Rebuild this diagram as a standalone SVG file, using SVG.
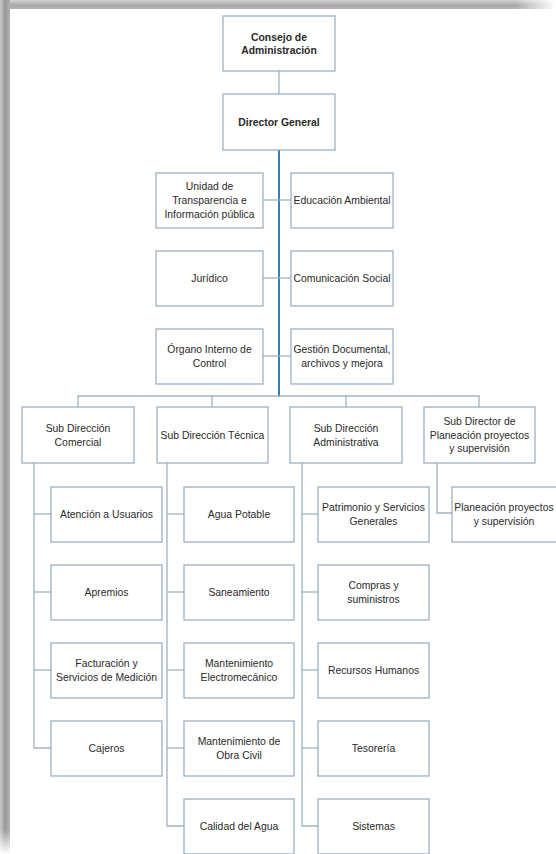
<svg xmlns="http://www.w3.org/2000/svg" width="556" height="854" viewBox="0 0 556 854">
<style>
.box{fill:#ffffff;stroke:#93aac0;stroke-width:1.2}
.t{font-family:"Liberation Sans",Arial,sans-serif;font-size:10.4px;fill:#2a2a2a;text-anchor:middle}
.b{font-weight:bold}
.c{stroke:#9db2c5;stroke-width:1.3;fill:none}
.trunk{stroke:#3a7db4;stroke-width:2;fill:none}
</style>
<defs>
<linearGradient id="gTop" x1="0" y1="0" x2="0" y2="1">
<stop offset="0" stop-color="#d2d2d2"/>
<stop offset="0.6" stop-color="#a9a9a9"/>
<stop offset="1" stop-color="#b4b4b4"/>
</linearGradient>
<linearGradient id="gLeft" x1="0" y1="0" x2="1" y2="0">
<stop offset="0" stop-color="#cacaca"/>
<stop offset="0.5" stop-color="#9a9a9a"/>
<stop offset="1" stop-color="#b0b0b0"/>
</linearGradient>
<linearGradient id="fadeR" x1="0" y1="0" x2="1" y2="0">
<stop offset="0" stop-color="#ffffff" stop-opacity="0"/>
<stop offset="1" stop-color="#ffffff" stop-opacity="1"/>
</linearGradient>
<linearGradient id="fadeB" x1="0" y1="0" x2="0" y2="1">
<stop offset="0" stop-color="#ffffff" stop-opacity="0"/>
<stop offset="1" stop-color="#ffffff" stop-opacity="1"/>
</linearGradient>
</defs>
<rect x="0" y="0" width="556" height="854" fill="#ffffff"/>
<g id="frame">
<rect x="0" y="0" width="556" height="9" fill="url(#gTop)"/>
<rect x="0" y="0" width="10" height="854" fill="url(#gLeft)"/>
<rect x="515" y="0" width="41" height="9" fill="url(#fadeR)"/>
<rect x="0" y="830" width="10" height="24" fill="url(#fadeB)"/>
</g>
<g id="connectors">
<line class="c" x1="279" y1="71" x2="279" y2="94"/>
<line class="trunk" x1="279" y1="150" x2="279" y2="397"/>
<line class="c" x1="263" y1="200" x2="291" y2="200"/>
<line class="c" x1="263" y1="278" x2="291" y2="278"/>
<line class="c" x1="263" y1="356" x2="291" y2="356"/>
<polyline class="c" points="78,407 78,396 479,396 479,407"/>
<line class="c" x1="212" y1="396" x2="212" y2="407"/>
<line class="c" x1="346" y1="396" x2="346" y2="407"/>
<polyline class="c" points="34,463 34,748 51,748"/>
<line class="c" x1="34" y1="514" x2="51" y2="514"/>
<line class="c" x1="34" y1="592" x2="51" y2="592"/>
<line class="c" x1="34" y1="670" x2="51" y2="670"/>
<polyline class="c" points="167,463 167,826 184,826"/>
<line class="c" x1="167" y1="514" x2="184" y2="514"/>
<line class="c" x1="167" y1="592" x2="184" y2="592"/>
<line class="c" x1="167" y1="670" x2="184" y2="670"/>
<line class="c" x1="167" y1="748" x2="184" y2="748"/>
<polyline class="c" points="302,463 302,826 318,826"/>
<line class="c" x1="302" y1="514" x2="318" y2="514"/>
<line class="c" x1="302" y1="592" x2="318" y2="592"/>
<line class="c" x1="302" y1="670" x2="318" y2="670"/>
<line class="c" x1="302" y1="748" x2="318" y2="748"/>
<polyline class="c" points="437,463 437,513 452,513"/>
</g>
<g id="consejo"><rect class="box" x="223" y="16" width="112" height="55"/><text class="t b" x="279" y="40.5">Consejo de</text><text class="t b" x="279" y="53.5">Administración</text></g>
<g id="director"><rect class="box" x="223" y="94" width="112" height="56"/><text class="t b" x="279" y="125.7">Director General</text></g>
<g id="unidad"><rect class="box" x="156" y="173" width="107" height="55"/><text class="t" x="209.5" y="189.5">Unidad de</text><text class="t" x="209.5" y="203.5">Transparencia e</text><text class="t" x="209.5" y="217.5">Información pública</text></g>
<g id="educacion"><rect class="box" x="291" y="173" width="102" height="55"/><text class="t" x="342" y="204.2">Educación Ambiental</text></g>
<g id="juridico"><rect class="box" x="156" y="251" width="107" height="55"/><text class="t" x="209.5" y="282.2">Jurídico</text></g>
<g id="comunicacion"><rect class="box" x="291" y="251" width="102" height="55"/><text class="t" x="342" y="282.2">Comunicación Social</text></g>
<g id="organo"><rect class="box" x="156" y="329" width="107" height="55"/><text class="t" x="209.5" y="353.2">Órgano Interno de</text><text class="t" x="209.5" y="367.2">Control</text></g>
<g id="gestion"><rect class="box" x="291" y="329" width="102" height="55"/><text class="t" x="342" y="353.2">Gestión Documental,</text><text class="t" x="342" y="367.2">archivos y mejora</text></g>
<g id="sub-comercial"><rect class="box" x="22" y="407" width="112" height="56"/><text class="t" x="78" y="431.5">Sub Dirección</text><text class="t" x="78" y="445.5">Comercial</text></g>
<g id="sub-tecnica"><rect class="box" x="157" y="407" width="111" height="56"/><text class="t" x="212.5" y="438.7">Sub Dirección Técnica</text></g>
<g id="sub-administrativa"><rect class="box" x="290" y="407" width="112" height="56"/><text class="t" x="346" y="431.5">Sub Dirección</text><text class="t" x="346" y="445.5">Administrativa</text></g>
<g id="sub-planeacion"><rect class="box" x="424" y="407" width="111" height="56"/><text class="t" x="479.5" y="425.2">Sub Director de</text><text class="t" x="479.5" y="438.7">Planeación proyectos</text><text class="t" x="479.5" y="452.2">y supervisión</text></g>
<g id="atencion"><rect class="box" x="51" y="487" width="111" height="55"/><text class="t" x="106.5" y="518.2">Atención a Usuarios</text></g>
<g id="apremios"><rect class="box" x="51" y="565" width="111" height="55"/><text class="t" x="106.5" y="596.2">Apremios</text></g>
<g id="facturacion"><rect class="box" x="51" y="643" width="111" height="55"/><text class="t" x="106.5" y="667.2">Facturación y</text><text class="t" x="106.5" y="681.2">Servicios de Medición</text></g>
<g id="cajeros"><rect class="box" x="51" y="721" width="111" height="55"/><text class="t" x="106.5" y="752.2">Cajeros</text></g>
<g id="agua-potable"><rect class="box" x="184" y="487" width="110" height="55"/><text class="t" x="239" y="518.2">Agua Potable</text></g>
<g id="saneamiento"><rect class="box" x="184" y="565" width="110" height="55"/><text class="t" x="239" y="596.2">Saneamiento</text></g>
<g id="electromecanico"><rect class="box" x="184" y="643" width="110" height="55"/><text class="t" x="239" y="667.2">Mantenimiento</text><text class="t" x="239" y="681.2">Electromecánico</text></g>
<g id="obra-civil"><rect class="box" x="184" y="721" width="110" height="55"/><text class="t" x="239" y="745.2">Mantenimiento de</text><text class="t" x="239" y="759.2">Obra Civil</text></g>
<g id="calidad"><rect class="box" x="184" y="799" width="110" height="55"/><text class="t" x="239" y="830.2">Calidad del Agua</text></g>
<g id="patrimonio"><rect class="box" x="318" y="487" width="111" height="55"/><text class="t" x="373.5" y="511.2">Patrimonio y Servicios</text><text class="t" x="373.5" y="525.2">Generales</text></g>
<g id="compras"><rect class="box" x="318" y="565" width="111" height="55"/><text class="t" x="373.5" y="589.2">Compras y</text><text class="t" x="373.5" y="603.2">suministros</text></g>
<g id="recursos"><rect class="box" x="318" y="643" width="111" height="55"/><text class="t" x="373.5" y="674.2">Recursos Humanos</text></g>
<g id="tesoreria"><rect class="box" x="318" y="721" width="111" height="55"/><text class="t" x="373.5" y="752.2">Tesorería</text></g>
<g id="sistemas"><rect class="box" x="318" y="799" width="111" height="55"/><text class="t" x="373.5" y="830.2">Sistemas</text></g>
<g id="planeacion-proyectos"><rect class="box" x="452" y="487" width="110" height="55"/><text class="t" x="504" y="511.2">Planeación proyectos</text><text class="t" x="504" y="525.2">y supervisión</text></g>
</svg>
